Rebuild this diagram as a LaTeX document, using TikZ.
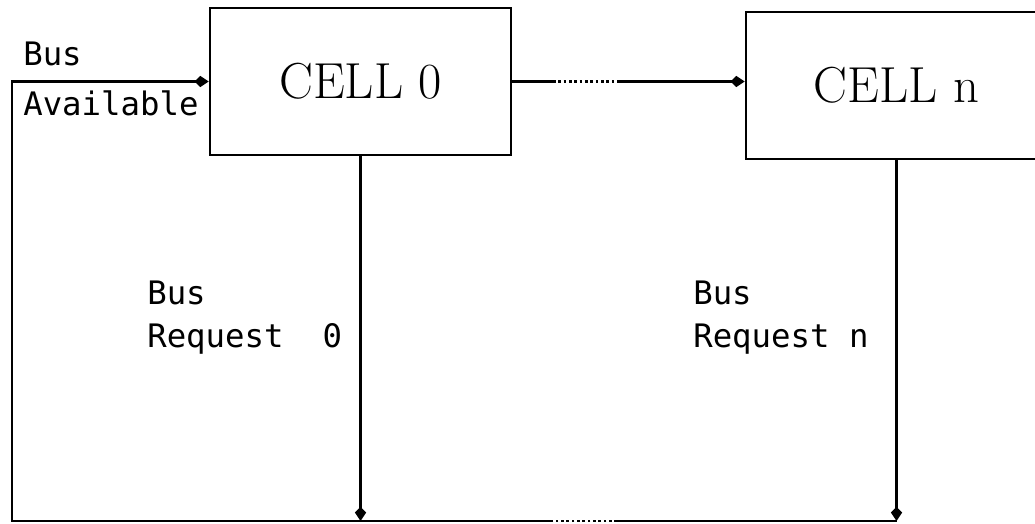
\documentclass[tikz,border=0pt]{standalone}
\usepackage{fontspec}
\newfontfamily\sigfont{DejaVu Sans Mono}
\usetikzlibrary{arrows.meta}

\begin{document}
\begin{tikzpicture}[
        x=0.025cm, y=-0.025cm,
        cell/.style={
            rectangle,
            draw,
            line width=1.8pt,
            minimum width=7.525cm,
            minimum height=3.675cm,
            font=\fontsize{36}{42}\selectfont,
            inner sep=0pt
        },
        sig/.style={
            align=left,
            anchor=base west,
            inner sep=0pt,
            font=\sigfont\fontsize{23}{30.6}\selectfont
        },
        arrow/.style={-{Kite[length=10pt,width=8pt,inset=4pt]}, line width=1.8pt},
        wire/.style={line width=1.8pt}
    ]
        \clip (0,0) rectangle (1035,524);

        % Cells
        \node[cell] (cell0) at (360.5,81.5) {CELL 0};
        \node[cell] (celln) at (896.5,85.5) {CELL n};

        % Bus lines
        \coordinate (gapA) at (553,81.5);
        \coordinate (gapB) at (620,81.5);
        \coordinate (bus0) at (360.5,521);
        \coordinate (busn) at (896.5,521);
        \coordinate (dotR) at (617,521);
        \coordinate (dotL) at (553,521);
        \coordinate (corner) at (12,521);

        % Cell chain
        \draw[wire] (cell0.east) -- (gapA);
        \draw[wire, dotted] (gapA) -- (gapB);
        \draw[arrow] (gapB) -- (gapB -| celln.west);

        % Requests and feedback
        \draw[arrow] (cell0.south) -- (bus0);
        \draw[arrow] (celln.south) -- (busn);
        \draw[wire] (busn) -- (dotR);
        \draw[wire, dotted] (dotR) -- (dotL);
        \draw[arrow] (dotL) -- (corner) |- (cell0.west);

        % Labels
        \node[sig] (avail) at (23,116) {Bus\\[5pt]Available};
        \node[sig] (req0) at (147,348) {Bus\\Request\ \ 0};
        \node[sig] (reqn) at (693,348) {Bus\\Request n};

    \end{tikzpicture}
\end{document}
